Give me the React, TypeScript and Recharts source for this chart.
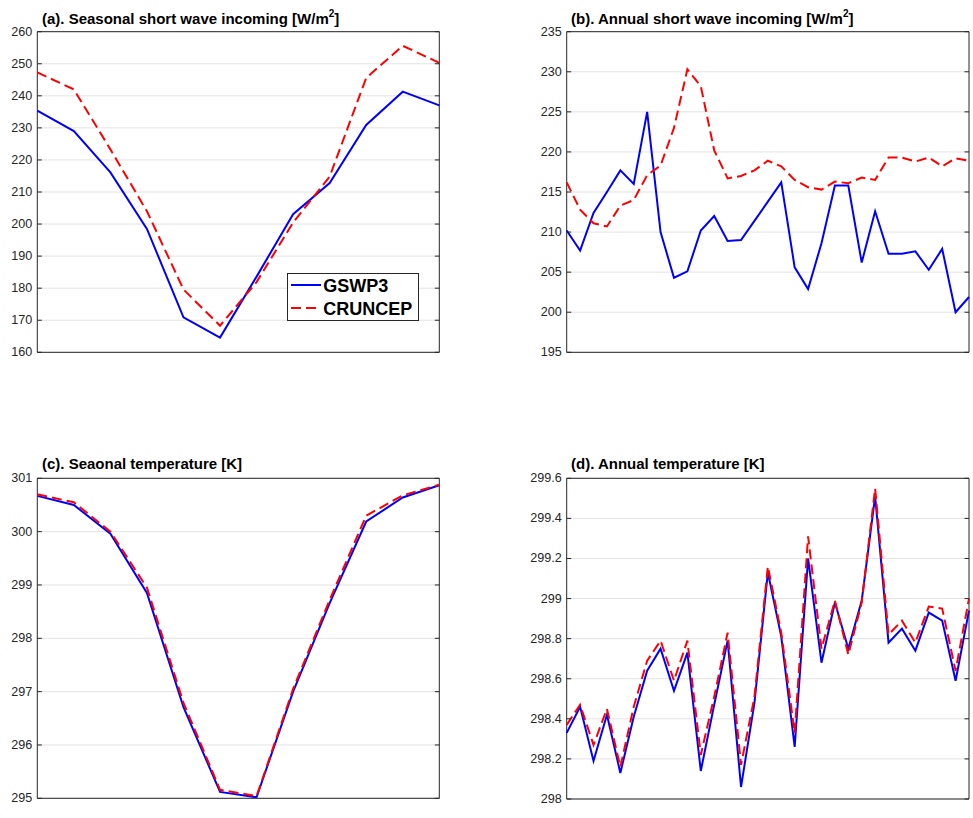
import React from 'react';
import { LineChart, Line, XAxis, YAxis, CartesianGrid, ReferenceArea, Legend } from 'recharts';

// ---------- categories ----------
const months = ['Jan', 'Feb', 'Mar', 'Apr', 'May', 'Jun', 'Jul', 'Aug', 'Sep', 'Oct', 'Nov', 'Dec'];
const years = [
  '1980', '1981', '1982', '1983', '1984', '1985', '1986', '1987', '1988', '1989', '1990',
  '1991', '1992', '1993', '1994', '1995', '1996', '1997', '1998', '1999', '2000',
  '2001', '2002', '2003', '2004', '2005', '2006', '2007', '2008', '2009', '2010',
];

// ---------- series values ----------
const swSeasonGSWP3 = [235.4, 229.0, 216.1, 198.5, 170.9, 164.6, 183.6, 203.1, 212.8, 230.9, 241.3, 237.0];
const swSeasonCRUNCEP = [247.3, 242.0, 223.3, 204.0, 179.6, 168.3, 181.9, 200.5, 214.8, 245.6, 255.6, 250.3];

const swAnnualGSWP3 = [
  210.2, 207.7, 212.4, 215.0, 217.7, 216.0, 225.0, 210.0, 204.3, 205.1, 210.2,
  212.0, 208.9, 209.0, 211.4, 213.8, 216.2, 205.6, 202.9, 208.6, 215.8,
  215.8, 206.2, 212.6, 207.3, 207.3, 207.6, 205.3, 207.9, 200.0, 201.9,
];
const swAnnualCRUNCEP = [
  216.2, 212.8, 211.1, 210.7, 213.3, 214.0, 217.1, 218.3, 223.0, 230.3, 228.2,
  220.2, 216.7, 217.0, 217.7, 218.9, 218.2, 216.5, 215.6, 215.3, 216.3,
  216.1, 216.8, 216.5, 219.3, 219.3, 218.8, 219.3, 218.2, 219.2, 218.9,
];

const tSeasonGSWP3 = [300.67, 300.5, 299.96, 298.85, 296.71, 295.12, 295.02, 297.0, 298.66, 300.19, 300.64, 300.87];
const tSeasonCRUNCEP = [300.7, 300.55, 300.0, 298.95, 296.79, 295.16, 295.04, 297.05, 298.72, 300.3, 300.68, 300.88];

const tAnnualGSWP3 = [
  298.33, 298.46, 298.19, 298.42, 298.13, 298.41, 298.64, 298.75, 298.54, 298.73, 298.14,
  298.47, 298.79, 298.06, 298.48, 299.13, 298.81, 298.26, 299.2, 298.68, 298.98,
  298.75, 298.99, 299.51, 298.78, 298.85, 298.74, 298.93, 298.89, 298.59, 298.94,
];
const tAnnualCRUNCEP = [
  298.37, 298.47, 298.27, 298.45, 298.16, 298.46, 298.69, 298.79, 298.59, 298.79, 298.22,
  298.51, 298.83, 298.17, 298.51, 299.16, 298.83, 298.33, 299.31, 298.75, 298.99,
  298.72, 298.98, 299.55, 298.82, 298.89, 298.78, 298.96, 298.95, 298.64, 299.0,
];

// ---------- tick labels ----------
const ticksSwSeason = [160, 170, 180, 190, 200, 210, 220, 230, 240, 250, 260];
const ticksSwAnnual = [195, 200, 205, 210, 215, 220, 225, 230, 235];
const ticksTSeason = [295, 296, 297, 298, 299, 300, 301];
const ticksTAnnual = [298, 298.2, 298.4, 298.6, 298.8, 299, 299.2, 299.4, 299.6];

const seriesNames = ['GSWP3', 'CRUNCEP'];

const FONT = "'Liberation Sans', Arial, Helvetica, sans-serif";
const AXIS_COLOR = '#262626';
const BLUE = '#0000ff';
const RED = '#ff0000';
const DASH = '10 5';

function buildRows(cats: string[], a: number[], b: number[]) {
  return cats.map((c, i) => ({ cat: c, gswp3: a[i], cruncep: b[i] }));
}

const fmt = (v: number) => String(Number(v.toFixed(1)));

function LegendBox() {
  return (
    <div
      style={{
        position: 'relative',
        width: 132,
        height: 48.5,
        boxSizing: 'border-box',
        border: `1px solid ${AXIS_COLOR}`,
        background: '#fff',
        fontFamily: FONT,
      }}
    >
      {seriesNames.map((name, i) => (
        <React.Fragment key={name}>
          <svg
            width={30}
            height={6}
            style={{ position: 'absolute', left: 3.5, top: (i === 0 ? 12.6 : 35) - 3 - 1 }}
          >
            <line
              x1={0}
              x2={30}
              y1={3}
              y2={3}
              stroke={i === 0 ? BLUE : RED}
              strokeWidth={2}
              strokeDasharray={i === 0 ? undefined : DASH}
            />
          </svg>
          <span
            style={{
              position: 'absolute',
              left: 35.6,
              top: (i === 0 ? 4.8 : 27.1) - 1,
              fontSize: 18,
              lineHeight: '18px',
              fontWeight: 'bold',
              color: '#000',
              whiteSpace: 'nowrap',
            }}
          >
            {name}
          </span>
        </React.Fragment>
      ))}
    </div>
  );
}

type PanelProps = {
  left: number;
  top: number;
  width: number;
  height: number;
  margin: { top: number; right: number; bottom: number; left: number };
  yWidth: number;
  rows: any[];
  domain: [number, number];
  ticks: number[];
  title: string;
  sup?: boolean;
  titleLeft: number;
  titleTop: number;
  showLegend?: boolean;
};

function Panel(p: PanelProps) {
  const plotLeft = p.margin.left + p.yWidth;
  const plotRight = p.width - p.margin.right;
  const renderTick = (props: any) => {
    const { y, payload, index } = props;
    return (
      <g key={`t-${index}`}>
        <text
          x={plotLeft - 5}
          y={y}
          textAnchor="end"
          dominantBaseline="central"
          fontFamily={FONT}
          fontSize={12.6}
          fill={AXIS_COLOR}
        >
          {fmt(payload.value)}
        </text>
        <line x1={plotLeft} x2={plotLeft + 4.5} y1={y} y2={y} stroke={AXIS_COLOR} strokeWidth={1} />
        <line x1={plotRight - 4.5} x2={plotRight} y1={y} y2={y} stroke={AXIS_COLOR} strokeWidth={1} />
      </g>
    );
  };

  return (
    <div style={{ position: 'absolute', left: p.left, top: p.top, width: p.width, height: p.height }}>
      <LineChart width={p.width} height={p.height} data={p.rows} margin={p.margin}>
        <CartesianGrid vertical={false} stroke="#e3e3e3" strokeWidth={1} />
        <XAxis dataKey="cat" hide />
        <YAxis
          type="number"
          domain={p.domain}
          ticks={p.ticks}
          interval={0}
          width={p.yWidth}
          axisLine={false}
          tickLine={false}
          allowDataOverflow
          tick={renderTick}
        />
        <Line
          type="linear"
          dataKey="gswp3"
          name="GSWP3"
          stroke={BLUE}
          strokeWidth={2}
          dot={false}
          activeDot={false}
          isAnimationActive={false}
        />
        <Line
          type="linear"
          dataKey="cruncep"
          name="CRUNCEP"
          stroke={RED}
          strokeWidth={2}
          strokeDasharray={DASH}
          dot={false}
          activeDot={false}
          isAnimationActive={false}
        />
        <ReferenceArea
          y1={p.domain[0]}
          y2={p.domain[1]}
          fill="none"
          fillOpacity={0}
          stroke={AXIS_COLOR}
          strokeWidth={1}
          ifOverflow="visible"
        />
        {p.showLegend ? (
          <Legend
            layout="vertical"
            align="center"
            verticalAlign="middle"
            wrapperStyle={{ left: 286.7, top: 272.7, width: 132, height: 48.5 }}
            content={() => <LegendBox />}
          />
        ) : null}
      </LineChart>
      <div
        style={{
          position: 'absolute',
          left: p.titleLeft - p.left,
          top: p.titleTop - p.top,
          fontFamily: FONT,
          fontWeight: 'bold',
          fontSize: 15,
          lineHeight: '15px',
          color: '#000',
          whiteSpace: 'nowrap',
        }}
      >
        {p.title}
        {p.sup ? (
          <>
            <span style={{ fontSize: 10, lineHeight: 0, verticalAlign: '7px' }}>2</span>]
          </>
        ) : null}
      </div>
    </div>
  );
}

export default function App() {
  return (
    <div
      style={{
        position: 'absolute',
        left: 0,
        top: 0,
        width: 973,
        height: 818,
        background: '#fff',
        overflow: 'hidden',
      }}
    >
      <Panel
        left={0}
        top={0}
        width={450}
        height={370}
        margin={{ top: 31.7, right: 10.7, bottom: 17.7, left: 0 }}
        yWidth={37.3}
        rows={buildRows(months, swSeasonGSWP3, swSeasonCRUNCEP)}
        domain={[160, 260]}
        ticks={ticksSwSeason}
        title="(a). Seasonal short wave incoming [W/m"
        sup
        titleLeft={42}
        titleTop={10.5}
        showLegend
      />
      <Panel
        left={500}
        top={0}
        width={473}
        height={370}
        margin={{ top: 31.7, right: 4, bottom: 17.7, left: 0 }}
        yWidth={66.7}
        rows={buildRows(years, swAnnualGSWP3, swAnnualCRUNCEP)}
        domain={[195, 235]}
        ticks={ticksSwAnnual}
        title="(b). Annual short wave incoming [W/m"
        sup
        titleLeft={571}
        titleTop={10.5}
      />
      <Panel
        left={0}
        top={440}
        width={450}
        height={378}
        margin={{ top: 38.3, right: 10.7, bottom: 19.7, left: 0 }}
        yWidth={37.3}
        rows={buildRows(months, tSeasonGSWP3, tSeasonCRUNCEP)}
        domain={[295, 301]}
        ticks={ticksTSeason}
        title="(c). Seaonal temperature [K]"
        titleLeft={42}
        titleTop={455.6}
      />
      <Panel
        left={500}
        top={440}
        width={473}
        height={378}
        margin={{ top: 38.3, right: 4, bottom: 19, left: 0 }}
        yWidth={66.7}
        rows={buildRows(years, tAnnualGSWP3, tAnnualCRUNCEP)}
        domain={[298, 299.6]}
        ticks={ticksTAnnual}
        title="(d). Annual temperature [K]"
        titleLeft={571}
        titleTop={455.6}
      />
    </div>
  );
}
